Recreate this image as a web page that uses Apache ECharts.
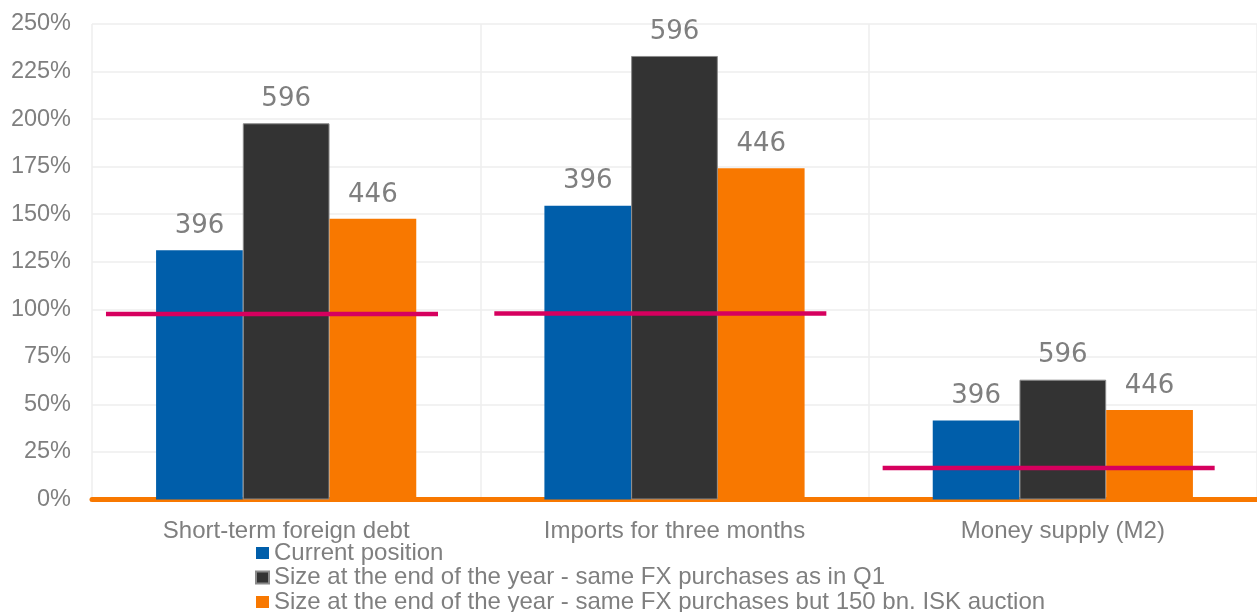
<!DOCTYPE html>
<html>
<head>
<meta charset="utf-8">
<script src="https://cdn.jsdelivr.net/npm/echarts@6/dist/echarts.min.js"></script>
<style>
html,body{margin:0;padding:0;background:#fff;}
#chart{width:1257px;height:612px;}
</style>
</head>
<body>
<div id="chart"></div>
<script>
const categories = ['Short-term foreign debt', 'Imports for three months', 'Money supply (M2)'];
const seriesNames = [
  'Current position',
  'Size at the end of the year - same FX purchases as in Q1',
  'Size at the end of the year - same FX purchases but 150 bn. ISK auction'
];
const currentPosition = [131, 154.5, 41.5];
const sameAsQ1 = [197.8, 233.2, 63];
const auction150 = [147.6, 174.1, 47];
const labelsCurrent = ['396', '396', '396'];
const labelsQ1 = ['596', '596', '596'];
const labelsAuction = ['446', '446', '446'];
const thresholds = [97.5, 97.8, 16.5];
const yTicks = [0, 250, 25];

const colors = ['#005EAA', '#333333', '#F87800'];
const labelStyle = {
  show: true, position: 'top', distance: 11,
  fontSize: 26, fontFamily: 'DejaVu Sans', color: '#7f7f7f'
};
function barSeries(name, data, labels, color, border) {
  return {
    name: name, type: 'bar', data: data,
    barGap: 0, barCategoryGap: '33%',
    itemStyle: border ? { color: color, borderColor: border, borderWidth: 1 } : { color: color },
    label: Object.assign({}, labelStyle, { formatter: p => labels[p.dataIndex] }),
    emphasis: { disabled: true }
  };
}

const chart = echarts.init(document.getElementById('chart'), null, { renderer: 'canvas' });
chart.setOption({
  animation: false,
  backgroundColor: '#ffffff',
  grid: { left: 92, right: 0, top: 24, bottom: 112.5, containLabel: false },
  legend: {
    data: seriesNames,
    orient: 'vertical', left: 250, top: 536, height: 150,
    itemGap: 0.5, itemWidth: 13, itemHeight: 12, icon: 'rect',
    textStyle: { fontSize: 24, color: '#7f7f7f', fontFamily: 'Liberation Sans' },
    selectedMode: false
  },
  xAxis: {
    type: 'category', data: categories, offset: 3,
    axisLine: { show: true, lineStyle: { color: '#F87800', width: 5 } },
    axisTick: { show: false },
    splitLine: { show: true, lineStyle: { color: '#eeeeee', width: 1.5 } },
    axisLabel: { fontSize: 24, color: '#7f7f7f', fontFamily: 'Liberation Sans', margin: 17 }
  },
  yAxis: {
    type: 'value', min: yTicks[0], max: yTicks[1], interval: yTicks[2],
    axisLine: { show: false }, axisTick: { show: false },
    splitLine: { lineStyle: { color: '#eeeeee', width: 1.5 } },
    axisLabel: { formatter: '{value}%', fontSize: 23.5, color: '#7f7f7f', fontFamily: 'Liberation Sans', margin: 21 }
  },
  series: [
    barSeries(seriesNames[0], currentPosition, labelsCurrent, colors[0], null),
    barSeries(seriesNames[1], sameAsQ1, labelsQ1, colors[1], '#8a8a8a'),
    barSeries(seriesNames[2], auction150, labelsAuction, colors[2], null),
    {
      name: 'Threshold', type: 'custom', z: 5,
      data: thresholds.map((v, i) => [i, v]),
      encode: { x: 0, y: 1 },
      renderItem: function (params, api) {
        const p = api.coord([api.value(0), api.value(1)]);
        const band = api.size([1, 0])[0];
        return {
          type: 'line',
          shape: { x1: p[0] - 0.464 * band, y1: p[1], x2: p[0] + 0.391 * band, y2: p[1] },
          style: { stroke: '#D6005E', lineWidth: 4.5 }
        };
      },
      silent: true
    }
  ]
});
</script>
</body>
</html>
